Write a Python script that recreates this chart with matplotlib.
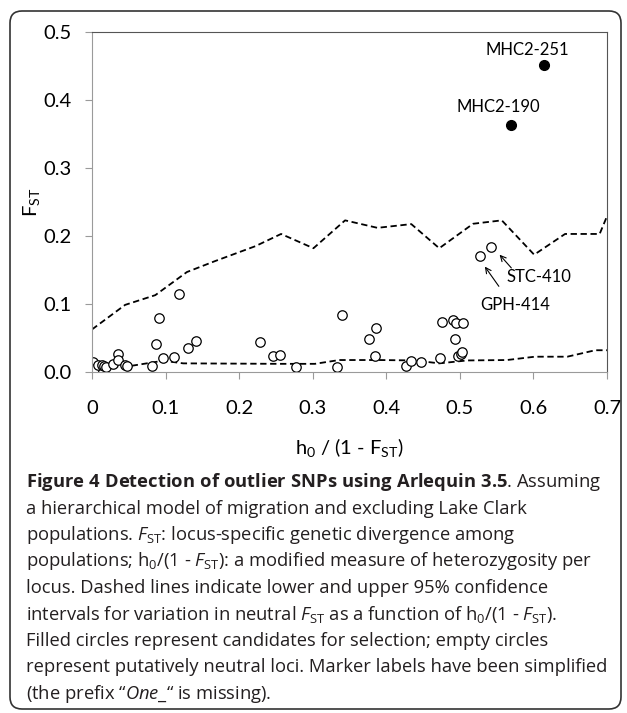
import matplotlib
matplotlib.use("Agg")
import matplotlib.pyplot as plt
from matplotlib.patches import FancyBboxPatch
from matplotlib.transforms import IdentityTransform

plt.rcParams['font.family'] = ['Lato', 'DejaVu Sans']
plt.rcParams['mathtext.fontset'] = 'custom'
# caption math uses Open Sans, chart labels use \mathsf (Lato)
plt.rcParams['mathtext.rm'] = 'Open Sans'
plt.rcParams['mathtext.it'] = 'Open Sans:italic'
plt.rcParams['mathtext.bf'] = 'Open Sans:bold'
plt.rcParams['mathtext.sf'] = 'Lato'

# neutral loci (empty circles)
neutral_h = [0.002, 0.003, 0.008, 0.0135, 0.016, 0.0195, 0.029, 0.036, 0.036, 0.045, 0.048,
             0.082, 0.0875, 0.091, 0.096, 0.111, 0.1185, 0.130, 0.141, 0.228, 0.246, 0.255,
             0.277, 0.333, 0.340, 0.376, 0.385, 0.386, 0.427, 0.434, 0.447, 0.473, 0.476,
             0.491, 0.494, 0.495, 0.497, 0.501, 0.503, 0.504, 0.527, 0.543]
neutral_f = [0.015, 0.005, 0.010, 0.010, 0.009, 0.007, 0.012, 0.027, 0.017, 0.010, 0.009,
             0.009, 0.041, 0.080, 0.021, 0.0215, 0.115, 0.035, 0.046, 0.044, 0.023, 0.025,
             0.008, 0.008, 0.084, 0.049, 0.024, 0.064, 0.009, 0.016, 0.015, 0.021, 0.074,
             0.076, 0.048, 0.072, 0.023, 0.027, 0.030, 0.072, 0.171, 0.184]

# candidates for selection (filled circles)
outlier_h = [0.569, 0.615]
outlier_f = [0.363, 0.451]
outlier_names = ['MHC2-190', 'MHC2-251']

# 95% confidence limits
upper_h = [0.0, 0.045, 0.086, 0.129, 0.167, 0.222, 0.257, 0.301, 0.344, 0.388, 0.434,
           0.472, 0.518, 0.557, 0.601, 0.643, 0.690, 0.700]
upper_f = [0.0626, 0.0987, 0.113, 0.147, 0.163, 0.185, 0.203, 0.182, 0.223, 0.212, 0.2175,
           0.182, 0.218, 0.223, 0.1725, 0.203, 0.203, 0.229]
lower_h = [0.0, 0.053, 0.097, 0.124, 0.254, 0.303, 0.336, 0.390, 0.439, 0.472, 0.510,
           0.564, 0.602, 0.646, 0.684, 0.700]
lower_f = [0.006, 0.009, 0.0166, 0.0127, 0.012, 0.012, 0.0176, 0.0176, 0.017, 0.0127, 0.017,
           0.0176, 0.0225, 0.0225, 0.032, 0.032]

fig = plt.figure(figsize=(6.27, 7.13), dpi=100)
ax = fig.add_axes([92/627, 1 - 372/713, 515/627, 340/713])

ax.plot(upper_h, upper_f, color='black', lw=1.3, dashes=(3.5, 2))
ax.plot(lower_h, lower_f, color='black', lw=1.3, dashes=(3.5, 2))
ax.plot(neutral_h, neutral_f, 'o', ms=6.8, mfc='white', mec='black', mew=0.9, ls='none')
ax.plot(outlier_h, outlier_f, 'o', ms=7, mfc='black', mec='black', ls='none')

lab = dict(fontsize=12, ha='center', va='center')
ax.text(0.552, 0.389, outlier_names[0], **lab)
ax.text(0.592, 0.474, outlier_names[1], **lab)
ax.text(0.608, 0.139, 'STC-410', **lab)
ax.text(0.575, 0.098, 'GPH-414', **lab)
arr = dict(arrowstyle='->', color='black', lw=0.8, shrinkA=0, shrinkB=0)
ax.annotate('', xy=(0.534, 0.155), xytext=(0.553, 0.126), arrowprops=arr)
ax.annotate('', xy=(0.554, 0.1725), xytext=(0.570, 0.153), arrowprops=arr)

ax.set_xlim(0, 0.7)
ax.set_ylim(0, 0.5)
ax.set_xticks([0, 0.1, 0.2, 0.3, 0.4, 0.5, 0.6, 0.7])
ax.set_xticklabels(['0', '0.1', '0.2', '0.3', '0.4', '0.5', '0.6', '0.7'])
ax.set_yticks([0, 0.1, 0.2, 0.3, 0.4, 0.5])
ax.set_yticklabels(['0.0', '0.1', '0.2', '0.3', '0.4', '0.5'])
ax.tick_params(axis='both', direction='out', length=5, width=0.8, color='#9a9a9a',
               labelsize=14.5, labelcolor='black')
ax.tick_params(axis='y', pad=10)
ax.tick_params(axis='x', pad=15)
for s in ax.spines.values():
    s.set_color('#555555')
    s.set_linewidth(0.8)
ax.spines['left'].set_color('#9a9a9a')
ax.spines['bottom'].set_color('#9a9a9a')

ax.set_xlabel(r'h$_{\mathsf{0}}$ / (1 - F$_{\mathsf{ST}}$)', fontsize=14.5)
ax.xaxis.set_label_coords(0.5, -0.19)
ax.set_ylabel(r'F$_{\mathsf{ST}}$', fontsize=14.5)
ax.yaxis.set_label_coords(-0.095, 0.5)

caption = [
    r'$\mathbf{Figure\ 4\ Detection\ of\ outlier\ SNPs\ using\ Arlequin\ 3.5}$. Assuming',
    'a hierarchical model of migration and excluding Lake Clark',
    r'populations. $F_{\mathrm{ST}}$: locus-specific genetic divergence among',
    r'populations; h$_0$/(1 - $F_{\mathrm{ST}}$): a modified measure of heterozygosity per',
    'locus. Dashed lines indicate lower and upper 95% confidence',
    r'intervals for variation in neutral $F_{\mathrm{ST}}$ as a function of h$_0$/(1 - $F_{\mathrm{ST}}$).',
    'Filled circles represent candidates for selection; empty circles',
    'represent putatively neutral loci. Marker labels have been simplified',
    r'(the prefix “$\mathit{One\_}$“ is missing).',
]
for i, line in enumerate(caption):
    y = 482 + i * 26.5
    fig.text(26/627, 1 - y/713, line, fontsize=13.2, color='#231f20', ha='left', va='center',
             family=['Open Sans', 'DejaVu Sans'])

box = FancyBboxPatch((10, 4), 611, 698, boxstyle='round,pad=0,rounding_size=12',
                     transform=IdentityTransform(), fill=False, ec='#333333', lw=1.2)
fig.add_artist(box)

fig.savefig('out.png', dpi=100)
